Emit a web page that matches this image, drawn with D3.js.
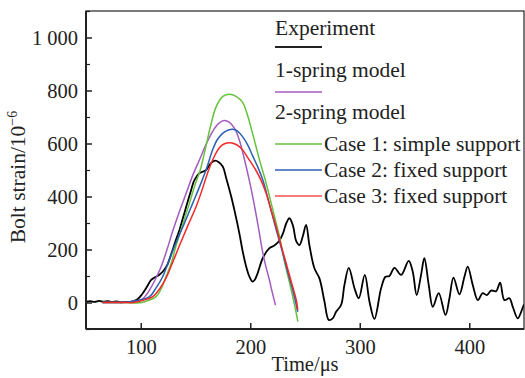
<!DOCTYPE html>
<html>
<head>
<meta charset="utf-8">
<script src="https://cdn.jsdelivr.net/npm/d3@7"></script>
<style>
  body { margin: 0; background: #fff; }
  text { font-family: "Liberation Serif", "Times New Roman", serif; fill: #222; }
</style>
</head>
<body>
<div class="canva"></div>
<script>
// values: [time (µs), strain (1e-6)]
const experiment = [[50,3],[54,5],[58,2],[62,6],[66,3],[70,5],[74,2],[78,4],[82,1],[86,2],[90,2],[93,4],[97,12],[101,30],[105,55],[109.5,85],[113,95],[117,105],[120,116],[124,140],[128,185],[132,235],[135.3,273],[140,340],[145,410],[149,462],[153.6,488],[159.7,500],[163,520],[166,532],[168,535],[171,530],[174.9,513],[178,470],[182.6,400],[186,340],[190,262],[193,195],[196,140],[199,100],[202,79],[204,85],[206.8,111],[211.4,167],[217.5,205],[222,215],[226,230],[230,262],[233,300],[235.8,318],[239,290],[242,232],[245,217],[248,250],[251,293],[254,217],[258.6,129],[263.2,91],[267.8,3],[271.7,-66],[275.3,-60],[278.4,-35],[283,-9],[286,66],[290,131],[295.2,54],[299.1,16],[304.6,104],[308.9,3],[313.4,-62],[319.5,54],[323.5,97],[327.1,100],[331.7,131],[337.8,104],[344.7,157],[348.4,116],[352,28],[356,104],[359,167],[363,66],[366.7,-16],[372.1,35],[378.3,-47],[381.9,16],[385.6,94],[391,31],[395.6,97],[398.6,135],[403.2,66],[407.8,9],[412.3,35],[416,28],[420,45],[424.6,43],[428.2,75],[432.1,9],[436.7,16],[439.7,-16],[444.3,-60],[447.4,-35],[450,-7]];

const oneSpring = [[65,0],[80,0],[90,1],[96,4],[102,15],[108,47],[113,85],[118.6,135],[124,200],[129,267],[135,340],[141.5,412],[147,475],[153.6,538],[160,600],[166,648],[171,675],[176,687],[181,680],[186,655],[190,613],[195,535],[200,445],[204,362],[208,270],[211,198],[214,140],[217.5,85],[220,40],[223,-10]];

const case1 = [[65,0],[85,0],[97,-2],[105,5],[114,22],[119,55],[123,97],[128,150],[132,211],[138,290],[144.5,375],[150,450],[154,495],[159,580],[164,670],[169,740],[175,778],[181,786],[187,778],[193,755],[198,700],[202,640],[208,545],[214.5,450],[220,360],[226.7,248],[231,160],[236,72],[240,0],[243.5,-72]];

const case2 = [[65,0],[82,0],[90,3],[100,10],[108,22],[114,55],[120,97],[126,160],[132,224],[140,300],[147.5,375],[154,440],[160,505],[166,580],[170,615],[175,639],[180,651],[184,654],[188,648],[193,626],[198,592],[202,555],[207,510],[211.4,463],[216,395],[220.5,324],[225,255],[229.7,186],[234,118],[238.8,47],[243.4,-35]];

const case3 = [[65,0],[85,0],[93,0],[102,8],[111,22],[117,50],[123,91],[129,150],[135,211],[143,290],[150.6,362],[156,425],[162,500],[167,550],[172,585],[176,598],[181,603],[186,598],[190,588],[193,576],[198,545],[205,500],[210,460],[214.5,412],[219,350],[223.6,286],[228,218],[232.8,148],[237,85],[242,10],[243.4,-28]];

const yTicks = [0, 200, 400, 600, 800, 1000];
const yMinor = [-100, 100, 300, 500, 700, 900, 1100];
const xTicks = [100, 200, 300, 400];

const canvas = d3.select(".canva");
const svg = canvas.append("svg")
            .attr("width", 525)
            .attr("height", 378);

const pLeft = 86, pRight = 524, pTop = 11, pBottom = 329;

const x = d3.scaleLinear().domain([50, 450]).range([pLeft, pRight]);
const y = d3.scaleLinear().domain([-100, 1100]).range([pBottom, pTop]);

svg.append("clipPath").attr("id", "plot")
    .append("rect")
    .attr("x", pLeft).attr("y", pTop)
    .attr("width", pRight - pLeft).attr("height", pBottom - pTop);

const line = d3.line()
    .x(d => x(d[0]))
    .y(d => y(d[1]))
    .curve(d3.curveCatmullRom.alpha(0.5));

const plot = svg.append("g").attr("clip-path", "url(#plot)");

plot.append("path").datum(experiment)
    .attr("d", line).attr("fill", "none")
    .attr("stroke", "#000").attr("stroke-width", 1.8);

plot.append("path").datum(oneSpring)
    .attr("d", line).attr("fill", "none")
    .attr("stroke", "#a35bc0").attr("stroke-width", 1.5);

plot.append("path").datum(case1)
    .attr("d", line).attr("fill", "none")
    .attr("stroke", "#66c23c").attr("stroke-width", 1.5);

plot.append("path").datum(case2)
    .attr("d", line).attr("fill", "none")
    .attr("stroke", "#2b5fb4").attr("stroke-width", 1.5);

plot.append("path").datum(case3)
    .attr("d", line).attr("fill", "none")
    .attr("stroke", "#f52828").attr("stroke-width", 1.5);

// axes with inward ticks
svg.append("g")
    .attr("transform", `translate(0,${pBottom})`)
    .call(d3.axisBottom(x).tickValues(xTicks).tickSize(-6).tickPadding(10).tickFormat(d3.format("d")))
    .call(g => g.select(".domain").remove())
    .call(g => g.selectAll("line").attr("stroke", "#222").attr("stroke-width", 1.5))
    .call(g => g.selectAll("text").attr("font-size", 20.5).attr("font-family", "Liberation Serif").attr("fill", "#222"));

svg.append("g")
    .attr("transform", `translate(${pLeft},0)`)
    .call(d3.axisLeft(y).tickValues(yTicks).tickSize(-6).tickPadding(8)
        .tickFormat(d => d >= 1000 ? "1 000" : d))
    .call(g => g.select(".domain").remove())
    .call(g => g.selectAll("line").attr("stroke", "#222").attr("stroke-width", 1.5))
    .call(g => g.selectAll("text").attr("font-size", 20.5).attr("font-family", "Liberation Serif").attr("fill", "#222"));

svg.append("g")
    .attr("transform", `translate(${pLeft},0)`)
    .call(d3.axisLeft(y).tickValues(yMinor).tickSize(-4).tickFormat(""))
    .call(g => g.select(".domain").remove())
    .call(g => g.selectAll("line").attr("stroke", "#222").attr("stroke-width", 1.2));

// frame
svg.append("rect")
    .attr("x", pLeft).attr("y", pTop)
    .attr("width", pRight - pLeft).attr("height", pBottom - pTop)
    .attr("fill", "none").attr("stroke", "#222").attr("stroke-width", 1.2);
svg.append("line")
    .attr("x1", pLeft).attr("x2", pLeft).attr("y1", pTop).attr("y2", pBottom)
    .attr("stroke", "#222").attr("stroke-width", 2);
svg.append("line")
    .attr("x1", pLeft).attr("x2", pRight).attr("y1", pBottom).attr("y2", pBottom)
    .attr("stroke", "#222").attr("stroke-width", 2);

// axis titles
svg.append("text")
    .text("Time/μs")
    .attr("font-size", 20.5)
    .attr("text-anchor", "middle")
    .attr("x", 305)
    .attr("y", 371);

const yTitle = svg.append("text")
    .attr("font-size", 21.5)
    .attr("text-anchor", "middle")
    .attr("transform", "translate(25,177) rotate(-90)");
yTitle.append("tspan").text("Bolt strain/10");
yTitle.append("tspan").text("−6").attr("font-size", 14).attr("dy", -8);

// legend
const legendX = 275, lineLen = 47, legendFont = 21.5;

svg.append("text").text("Experiment").attr("font-size", legendFont).attr("x", legendX).attr("y", 35);
svg.append("line").attr("x1", legendX).attr("x2", legendX + lineLen).attr("y1", 47).attr("y2", 47)
    .attr("stroke", "#222").attr("stroke-width", 2);

svg.append("text").text("1-spring model").attr("font-size", legendFont).attr("x", legendX).attr("y", 77);
svg.append("line").attr("x1", legendX).attr("x2", legendX + lineLen).attr("y1", 92).attr("y2", 92)
    .attr("stroke", "#a35bc0").attr("stroke-width", 1.5);

svg.append("text").text("2-spring model").attr("font-size", legendFont).attr("x", legendX).attr("y", 119);

const caseNames = ["Case 1: simple support", "Case 2: fixed support", "Case 3: fixed support"];
const caseColors = ["#66c23c", "#2b5fb4", "#f55050"];
const caseRows = [144, 170, 196];

caseNames.forEach((name, i) => {
    svg.append("line")
        .attr("x1", legendX).attr("x2", legendX + lineLen)
        .attr("y1", caseRows[i]).attr("y2", caseRows[i])
        .attr("stroke", caseColors[i]).attr("stroke-width", 1.5);
    svg.append("text").text(name)
        .attr("font-size", legendFont)
        .attr("x", legendX + 49)
        .attr("y", caseRows[i] + 7);
});
</script>
</body>
</html>
